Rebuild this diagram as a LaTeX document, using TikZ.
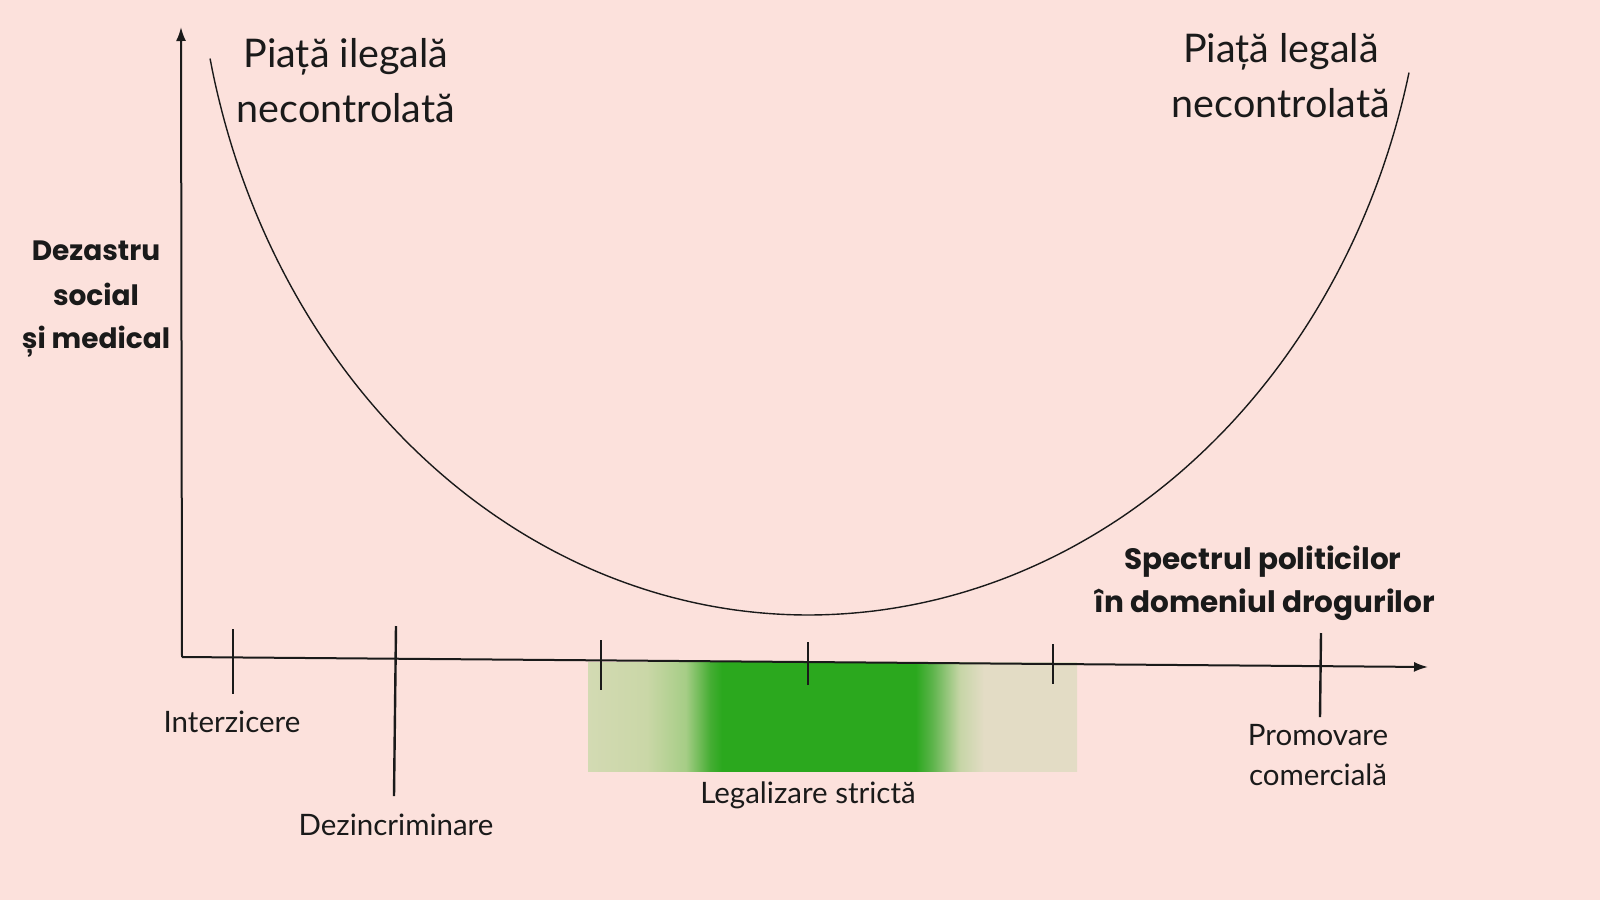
\documentclass[tikz,border=0pt]{standalone}
\usepackage{fontspec}
\setmainfont{Lato}
\newfontfamily\heavyfont{Poppins}
\usetikzlibrary{arrows.meta}
\definecolor{bg}{HTML}{FCE1DC}
\definecolor{gr}{HTML}{2BA81E}
\definecolor{gL}{HTML}{D3DAB3}
\definecolor{gLb}{HTML}{CAD7A7}
\definecolor{gLc}{HTML}{A6CD86}
\definecolor{gLd}{HTML}{45AD33}
\definecolor{gRd}{HTML}{5DB44B}
\definecolor{gRc}{HTML}{C6D5A6}
\definecolor{gR}{HTML}{E3DCC5}
\definecolor{ink}{HTML}{1A1A1A}
\pgfdeclarehorizontalshading{legalband}{100bp}{%
  color(0bp)=(gL); color(25bp)=(gL); color(31bp)=(gLb); color(35bp)=(gLc);
  color(37.5bp)=(gLd); color(38.7bp)=(gr); color(58.5bp)=(gr); color(60.2bp)=(gRd);
  color(63bp)=(gRc); color(65.5bp)=(gR); color(75bp)=(gR); color(100bp)=(gR)}
\tikzset{
  axisline/.style={draw=ink, line width=2pt},
  tickmark/.style={draw=ink, line width=2.4pt},
  ucurve/.style={draw=ink, line width=1.4pt},
  title/.style={font=\fontsize{39.5}{46}\selectfont, text=ink, inner sep=0pt, anchor=base},
  lab/.style={font=\fontsize{29.5}{35}\selectfont, text=ink, inner sep=0pt, anchor=base},
  blab/.style={font=\heavyfont\bfseries\fontsize{29.5}{35}\selectfont, text=ink, inner sep=0pt, anchor=base},
  ylab/.style={font=\heavyfont\bfseries\fontsize{28}{34}\selectfont, text=ink, inner sep=0pt, anchor=base},
}
\begin{document}
\begin{tikzpicture}[x=1pt,y=-1pt]
\useasboundingbox (0,0) rectangle (1600,900);
\fill[bg] (0,0) rectangle (1600,900);

% green band
\shade[shading=legalband] (588,662) rectangle (1077,771);

% axes
\coordinate (O) at (182,657);
\coordinate (ytop) at (181,27);
\coordinate (xend) at (1428,667);
\draw[axisline, -{Latex[length=14pt,width=10pt]}] (O) -- (ytop);
\draw[axisline, -{Latex[length=14pt,width=10pt]}] (O) -- (xend);

% ticks
\coordinate (t1a) at (233,629); \coordinate (t1b) at (233,694);
\coordinate (t2a) at (396,626); \coordinate (t2b) at (394,796);
\coordinate (t3a) at (601,640); \coordinate (t3b) at (601,690);
\coordinate (t4a) at (808,642); \coordinate (t4b) at (808,685);
\coordinate (t5a) at (1053,644); \coordinate (t5b) at (1053,684);
\coordinate (t6a) at (1321,633); \coordinate (t6b) at (1320,717);
\draw[tickmark] (t1a) -- (t1b);
\draw[tickmark] (t2a) -- (t2b);
\draw[tickmark] (t3a) -- (t3b);
\draw[tickmark] (t4a) -- (t4b);
\draw[tickmark] (t5a) -- (t5b);
\draw[tickmark] (t6a) -- (t6b);

% U curve (two elliptical quarter arcs)
\draw[ucurve] plot[domain=167.7:90, samples=90, smooth] ({808+612*cos(\x)},{-92+707*sin(\x)})
  -- plot[domain=90:13.46, samples=90, smooth] ({808+618*cos(\x)},{-92+707*sin(\x)});

% titles
\node[title] (tl1) at (346,67) {Piață ilegală};
\node[title] (tl2) at (346,122) {necontrolată};
\node[title] (tr1) at (1281,62) {Piață legală};
\node[title] (tr2) at (1281,117) {necontrolată};

% y label
\node[ylab] (y1) at (96,260) {Dezastru};
\node[ylab] (y2) at (96,305) {social};
\node[ylab] (y3) at (96,348) {și medical};

% x label
\node[blab] (x1) at (1263,569) {Spectrul politicilor};
\node[blab] (x2) at (1265,612) {în domeniul drogurilor};

% tick labels
\node[lab] (l1) at (232,732) {Interzicere};
\node[lab] (l2) at (396,835) {Dezincriminare};
\node[lab] (l3) at (808,803) {Legalizare strictă};
\node[lab] (l4) at (1318,745) {Promovare};
\node[lab] (l5) at (1318,785) {comercială};
\end{tikzpicture}
\end{document}
